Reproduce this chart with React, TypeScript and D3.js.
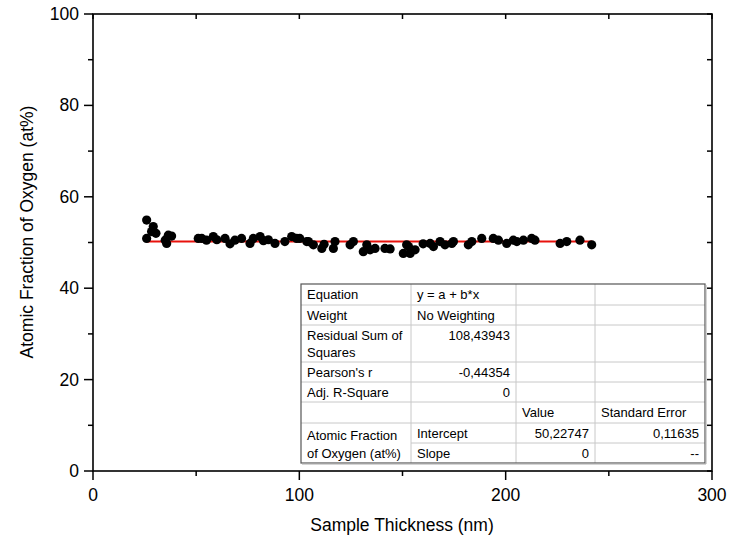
import React from "react";
import * as d3 from "d3";

const thickness: number[] = [
  26.0, 29.2, 28.4, 26.0, 36.5, 35.7, 38.1, 35.0, 51.0, 55.0,
  52.7, 58.3, 64.0, 66.4, 68.8, 72.0, 76.1, 77.7, 81.0, 82.6,
  88.2, 93.0, 96.3, 98.7, 103.6, 100.2, 104.4, 106.8, 110.9, 116.5,
  117.3, 124.6, 126.2, 131.0, 132.7, 134.3, 136.7, 141.5, 152.0, 150.4,
  152.9, 156.1, 153.7, 163.4, 165.0, 168.2, 170.6, 173.9, 174.7, 181.9,
  183.6, 188.4, 194.0, 196.5, 200.5, 203.7, 205.4, 208.6, 212.6, 214.2,
  226.4, 229.6, 236.0, 241.7, 30.5, 60.0, 85.0, 112.0, 144.0, 160.0,
];
const oxygen: number[] = [
  54.9, 53.5, 52.4, 50.9, 51.6, 49.8, 51.4, 50.5, 50.9, 50.5,
  50.9, 51.3, 50.9, 49.7, 50.5, 50.9, 49.8, 50.9, 51.3, 50.4,
  49.8, 50.2, 51.3, 50.9, 50.2, 50.9, 50.2, 49.5, 48.7, 48.7,
  50.2, 49.5, 50.2, 48.0, 49.5, 48.4, 48.7, 48.7, 49.5, 47.6,
  49.1, 48.4, 47.6, 49.8, 49.1, 50.2, 49.5, 49.8, 50.2, 49.5,
  50.2, 50.9, 50.9, 50.5, 49.8, 50.5, 50.2, 50.5, 50.9, 50.5,
  49.8, 50.2, 50.5, 49.5, 52.0, 50.6, 50.6, 49.6, 48.6, 49.7,
];
const fitIntercept = 50.22747;
const fitSlope = 0;
const fitRange: number[] = [26, 242];

const xTicks: number[] = [0, 100, 200, 300];
const xMinor: number[] = [50, 150, 250];
const yTicks: number[] = [0, 20, 40, 60, 80, 100];
const yMinor: number[] = [10, 30, 50, 70, 90];

const tableRows: string[][] = [
  ["Equation", "y = a + b*x", "", ""],
  ["Weight", "No Weighting", "", ""],
  ["Residual Sum of|Squares", "108,43943", "", ""],
  ["Pearson's r", "-0,44354", "", ""],
  ["Adj. R-Square", "0", "", ""],
  ["", "", "Value", "Standard Error"],
  ["Atomic Fraction|of Oxygen (at%)", "Intercept", "50,22747", "0,11635"],
  ["", "Slope", "0", "--"],
];

const W = 732;
const H = 548;
const M = { left: 93, right: 712, top: 14, bottom: 471 };
const FONT = "'Liberation Sans', Arial, sans-serif";

export default function App() {
  const x = d3.scaleLinear().domain([0, 300]).range([M.left, M.right]);
  const y = d3.scaleLinear().domain([0, 100]).range([M.bottom, M.top]);
  const line = d3
    .line<number>()
    .x((d) => x(d))
    .y((d) => y(fitIntercept + fitSlope * d));

  const colX = [301, 411, 516, 595, 705];
  const rowY = [284, 305, 325, 362, 382, 402, 423, 443, 463];
  const fs = 13;

  const cells: React.ReactNode[] = [];
  tableRows.forEach((row, ri) => {
    row.forEach((txt, ci) => {
      if (!txt) return;
      const y0 = rowY[ri];
      const x0 = colX[ci];
      const x1 = colX[ci + 1];
      let anchor: "start" | "end" = "start";
      let tx = x0 + 6;
      const numeric = /^[-0-9,]+$/.test(txt) || txt === "--";
      if (numeric && ci >= 1) {
        anchor = "end";
        tx = x1 - 6;
      }
      const lines = txt.split("|");
      const baseY = ri === 6 && ci === 0 ? 439.5 : y0 + 15;
      cells.push(
        <text key={`${ri}-${ci}`} x={tx} y={baseY} fontSize={fs} fontFamily={FONT} fill="#000" textAnchor={anchor}>
          {lines.map((l, i) => (
            <tspan key={i} x={tx} dy={i === 0 ? 0 : ri === 6 ? 18 : 17}>{l}</tspan>
          ))}
        </text>
      );
    });
  });

  const hLines: React.ReactNode[] = [];
  for (let i = 1; i < rowY.length - 1; i++) {
    const xs = i === 7 ? colX[1] : colX[0];
    hLines.push(
      <line key={`h${i}`} x1={xs} x2={colX[4]} y1={rowY[i]} y2={rowY[i]} stroke="#c8c8c8" strokeWidth={1} />
    );
  }
  const vLines = colX.slice(1, 4).map((cx, i) => (
    <line key={`v${i}`} x1={cx} x2={cx} y1={rowY[0]} y2={rowY[8]} stroke="#c8c8c8" strokeWidth={1} />
  ));

  return (
    <svg width={W} height={H} style={{ position: "absolute", left: 0, top: 0, background: "#fff" }}>
      <path d={line(fitRange) || ""} stroke="#e8120c" strokeWidth={2} fill="none" />
      {thickness.map((t, i) => (
        <circle key={i} cx={x(t)} cy={y(oxygen[i])} r={4.6} fill="#000" />
      ))}
      <g>
        <rect x={colX[0]} y={rowY[0]} width={colX[4] - colX[0]} height={rowY[8] - rowY[0]} fill="#fff" />
        {hLines}
        {vLines}
        <rect x={colX[0]} y={rowY[0]} width={colX[4] - colX[0]} height={rowY[8] - rowY[0]} fill="none" stroke="#555" strokeWidth={1.2} />
        <line x1={colX[0] + 1} x2={colX[4] + 1} y1={rowY[8] + 1} y2={rowY[8] + 1} stroke="#aaa" strokeWidth={1} />
        <line x1={colX[4] + 1} x2={colX[4] + 1} y1={rowY[0] + 1} y2={rowY[8] + 1} stroke="#aaa" strokeWidth={1} />
        {cells}
      </g>
      <rect x={M.left} y={M.top} width={M.right - M.left} height={M.bottom - M.top} fill="none" stroke="#000" strokeWidth={1.6} />
      {xTicks.map((t) => (
        <g key={`xt${t}`}>
          <line x1={x(t)} x2={x(t)} y1={M.bottom} y2={M.bottom + 9} stroke="#000" strokeWidth={1.5} />
          <text x={x(t)} y={M.bottom + 30} textAnchor="middle" fontSize={17.5} fontFamily={FONT} fill="#000">{t}</text>
        </g>
      ))}
      {xMinor.map((t) => (
        <line key={`xm${t}`} x1={x(t)} x2={x(t)} y1={M.bottom} y2={M.bottom + 5} stroke="#000" strokeWidth={1.5} />
      ))}
      {[...xTicks, ...xMinor].map((t) => (
        <line key={`xtop${t}`} x1={x(t)} x2={x(t)} y1={M.top} y2={M.top + 5} stroke="#000" strokeWidth={1.5} />
      ))}
      {yTicks.map((t) => (
        <g key={`yt${t}`}>
          <line x1={M.left - 9} x2={M.left} y1={y(t)} y2={y(t)} stroke="#000" strokeWidth={1.5} />
          <text x={M.left - 14} y={y(t) + 6} textAnchor="end" fontSize={17.5} fontFamily={FONT} fill="#000">{t}</text>
        </g>
      ))}
      {yMinor.map((t) => (
        <line key={`ym${t}`} x1={M.left - 5} x2={M.left} y1={y(t)} y2={y(t)} stroke="#000" strokeWidth={1.5} />
      ))}
      {[...yTicks, ...yMinor].map((t) => (
        <line key={`yr${t}`} x1={M.right - 5} x2={M.right} y1={y(t)} y2={y(t)} stroke="#000" strokeWidth={1.5} />
      ))}
      <text x={402} y={531} textAnchor="middle" fontSize={17.5} fontFamily={FONT} fill="#000">Sample Thickness (nm)</text>
      <text transform={`translate(33, 232) rotate(-90)`} textAnchor="middle" fontSize={17.5} fontFamily={FONT} fill="#000">
        Atomic Fraction of Oxygen (at%)
      </text>
    </svg>
  );
}
